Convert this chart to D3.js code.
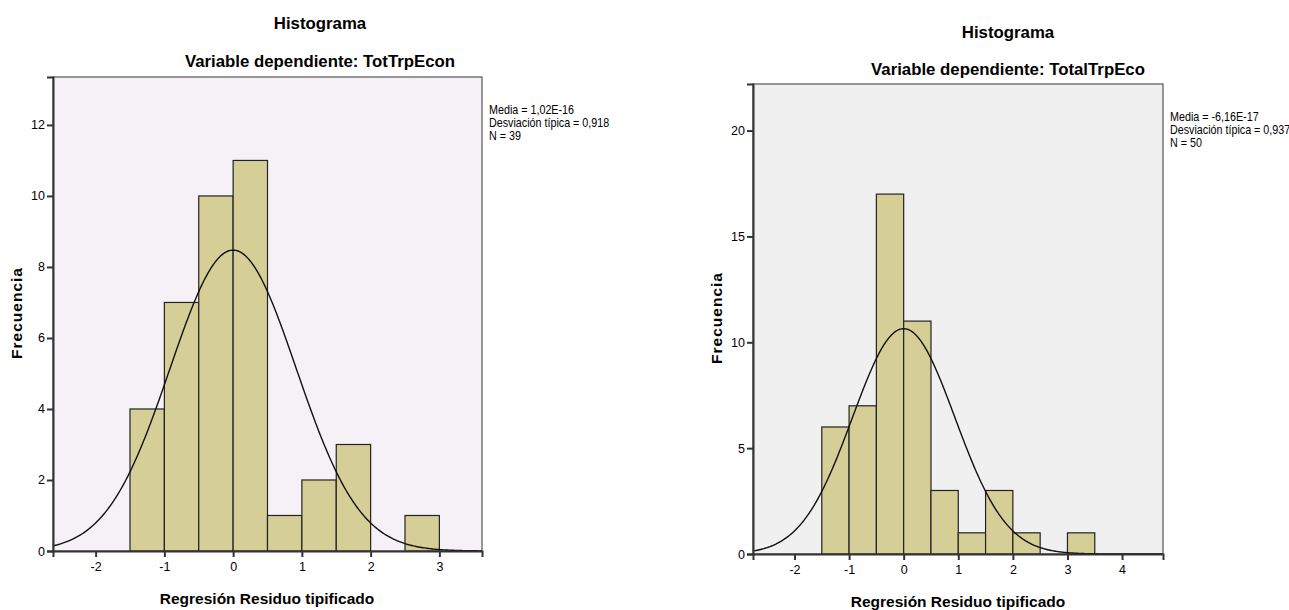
<!DOCTYPE html>
<html>
<head>
<meta charset="utf-8">
<script src="https://cdn.jsdelivr.net/npm/d3@7"></script>
<style>
  body { margin: 0; background: #fff; }
  svg { display: block; }
  text { fill: #000; }
  .title { font-family: "Liberation Sans", Arial, sans-serif; font-weight: bold; font-size: 16.8px; }
  .axis-title { font-family: "Liberation Sans", Arial, sans-serif; font-weight: bold; font-size: 15.5px; }
  .tick-label { font-family: "Liberation Sans", Arial, sans-serif; font-size: 12.5px; }
  .legend { font-family: "Liberation Sans", Arial, sans-serif; font-size: 12.5px; }
</style>
</head>
<body>
<svg width="1289" height="610"></svg>
<script>
// left histogram: TotTrpEcon
const binStartsLeft = [-1.5, -1, -0.5, 0, 0.5, 1, 1.5, 2, 2.5];
const countsLeft = [4, 7, 10, 11, 1, 2, 3, 0, 1];
const xTicksLeft = [-2, -1, 0, 1, 2, 3];
const yTicksLeft = [0, 2, 4, 6, 8, 10, 12];
const statsLeft = { mean: 1.02e-16, sd: 0.918, n: 39 };
const legendLeft = ["Media = 1,02E-16", "Desviación típica = 0,918", "N = 39"];

// right histogram: TotalTrpEco
const binStartsRight = [-1.5, -1, -0.5, 0, 0.5, 1, 1.5, 2, 2.5, 3];
const countsRight = [6, 7, 17, 11, 3, 1, 3, 1, 0, 1];
const xTicksRight = [-2, -1, 0, 1, 2, 3, 4];
const yTicksRight = [0, 5, 10, 15, 20];
const statsRight = { mean: -6.16e-17, sd: 0.937, n: 50 };
const legendRight = ["Media = -6,16E-17", "Desviación típica = 0,937", "N = 50"];

const binWidth = 0.5;

const svg = d3.select("svg");

function drawHistogram(cfg) {
    const g = svg.append("g");
    const x = d3.scaleLinear().domain(cfg.xDomain).range([cfg.left, cfg.right]);
    const y = d3.scaleLinear().domain(cfg.yDomain).range([cfg.bottom, cfg.top]);

    // titles
    g.append("text").attr("class", "title")
        .attr("x", cfg.titleX).attr("y", cfg.titleY)
        .attr("text-anchor", "middle").text("Histograma");
    g.append("text").attr("class", "title")
        .attr("x", cfg.titleX).attr("y", cfg.subtitleY)
        .attr("text-anchor", "middle").text(cfg.subtitle);

    // plot background
    g.append("rect")
        .attr("x", cfg.left).attr("y", cfg.top)
        .attr("width", cfg.right - cfg.left).attr("height", cfg.bottom - cfg.top)
        .attr("fill", cfg.bg).attr("stroke", "#555").attr("stroke-width", 1.2);

    const clipId = "clip-" + cfg.id;
    g.append("clipPath").attr("id", clipId).append("rect")
        .attr("x", cfg.left).attr("y", cfg.top)
        .attr("width", cfg.right - cfg.left).attr("height", cfg.bottom - cfg.top);

    // bars
    g.selectAll("rect.bar")
        .data(cfg.binStarts.map((b, i) => ({ x0: b, count: cfg.counts[i] })).filter(d => d.count > 0))
        .enter().append("rect")
        .attr("class", "bar")
        .attr("x", d => x(d.x0))
        .attr("y", d => y(d.count))
        .attr("width", d => x(d.x0 + binWidth) - x(d.x0))
        .attr("height", d => y(0) - y(d.count))
        .attr("fill", "#d5cf97")
        .attr("stroke", "#222")
        .attr("stroke-width", 1.2);

    // normal curve from the reported stats
    const s = cfg.stats;
    const pdf = v => s.n * binWidth / (s.sd * Math.sqrt(2 * Math.PI)) * Math.exp(-0.5 * Math.pow((v - s.mean) / s.sd, 2));
    const xs = d3.range(cfg.xDomain[0], cfg.xDomain[1] + 0.01, 0.02);
    g.append("path")
        .attr("clip-path", "url(#" + clipId + ")")
        .attr("d", d3.line().x(d => x(d)).y(d => y(pdf(d)))(xs))
        .attr("fill", "none").attr("stroke", "#111").attr("stroke-width", 1.4);

    // axes
    const yAxis = g.append("g").attr("transform", `translate(${cfg.left},0)`)
        .call(d3.axisLeft(y).tickValues(cfg.yTicks).tickSize(6).tickPadding(2).tickFormat(d3.format("d")));
    const xAxis = g.append("g").attr("transform", `translate(0,${cfg.bottom})`)
        .call(d3.axisBottom(x).tickValues(cfg.xTicks).tickSize(6).tickPadding(5).tickFormat(d => d < 0 ? "-" + Math.abs(d) : d));
    [yAxis, xAxis].forEach(a => {
        a.select(".domain").attr("stroke", "#333").attr("stroke-width", 2);
        a.selectAll(".tick line").attr("stroke", "#333").attr("stroke-width", 2);
        a.selectAll(".tick text").attr("class", "tick-label").attr("fill", "#000");
    });

    // axis titles
    g.append("text").attr("class", "axis-title")
        .attr("transform", `translate(${cfg.yTitleX},${cfg.yTitleY}) rotate(-90)`)
        .attr("text-anchor", "middle").attr("letter-spacing", "1px").text("Frecuencia");
    g.append("text").attr("class", "axis-title")
        .attr("x", cfg.xTitleX).attr("y", cfg.xTitleY)
        .attr("text-anchor", "middle").text("Regresión Residuo tipificado");

    // stats legend, horizontally condensed like a narrow font
    g.append("g").selectAll("text")
        .data(cfg.legend).enter().append("text")
        .attr("class", "legend")
        .attr("transform", (d, i) => `translate(${cfg.right + 7},${cfg.legendY + i * 13}) scale(0.86,1)`)
        .text(d => d);
}

drawHistogram({
    id: "left", left: 53, right: 482, top: 77, bottom: 551,
    xDomain: [-2.62, 3.62], yDomain: [0, 13.35],
    binStarts: binStartsLeft, counts: countsLeft,
    xTicks: xTicksLeft, yTicks: yTicksLeft, stats: statsLeft, legend: legendLeft,
    bg: "#f6f1f6", subtitle: "Variable dependiente: TotTrpEcon",
    titleX: 320, titleY: 29, subtitleY: 67,
    yTitleX: 22, yTitleY: 313, xTitleX: 267, xTitleY: 604, legendY: 114
});

drawHistogram({
    id: "right", left: 753, right: 1163, top: 84, bottom: 554,
    xDomain: [-2.76, 4.75], yDomain: [0, 22.2],
    binStarts: binStartsRight, counts: countsRight,
    xTicks: xTicksRight, yTicks: yTicksRight, stats: statsRight, legend: legendRight,
    bg: "#f0f0f0", subtitle: "Variable dependiente: TotalTrpEco",
    titleX: 1008, titleY: 38, subtitleY: 75,
    yTitleX: 722, yTitleY: 318, xTitleX: 958, xTitleY: 607, legendY: 121
});
</script>
</body>
</html>
